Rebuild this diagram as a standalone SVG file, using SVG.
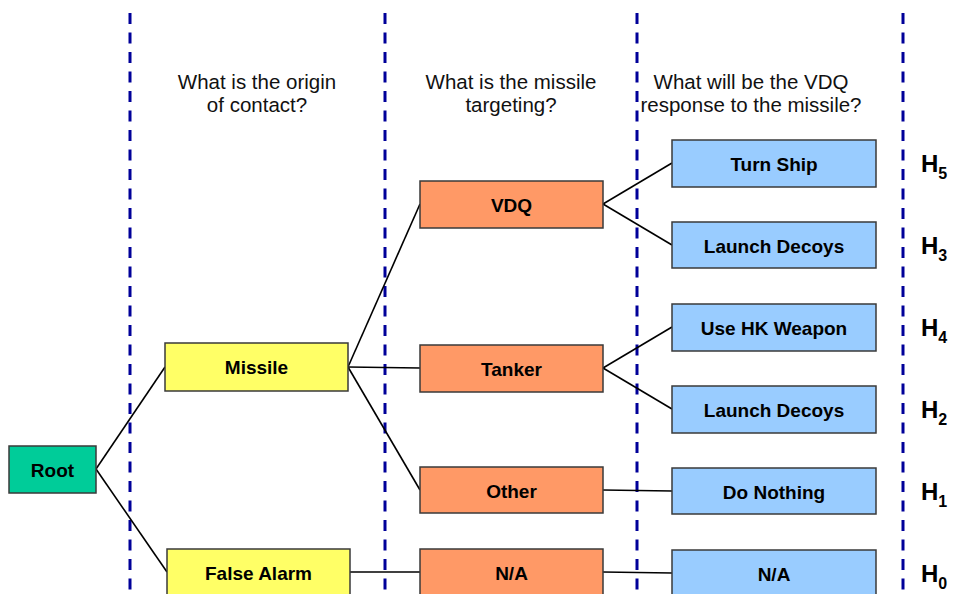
<svg xmlns="http://www.w3.org/2000/svg" width="953" height="594" viewBox="0 0 953 594">
<style>
.bg{fill:#ffffff}
.div{stroke:#000099;stroke-width:3;stroke-dasharray:11 8.5;fill:none}
.q{font-family:"Liberation Sans",Arial,sans-serif;font-size:20.5px;fill:#111;text-anchor:middle}
.box{stroke:#3a3a3a;stroke-width:1.5}
.root{fill:#00CC99}
.yel{fill:#FFFF66}
.org{fill:#FF9966}
.blu{fill:#99CCFF}
.lbl{font-family:"Liberation Sans",Arial,sans-serif;font-weight:bold;font-size:19px;fill:#000;text-anchor:middle}
.h{font-family:"Liberation Sans",Arial,sans-serif;font-weight:bold;font-size:24px;fill:#000}
.sub{font-size:16px}
.con line{stroke:#000;stroke-width:1.6}
</style>
<rect class="bg" x="0" y="0" width="953" height="594"/>
<g id="dividers">
<line class="div" x1="130" y1="13" x2="130" y2="594"/>
<line class="div" x1="385" y1="13" x2="385" y2="594"/>
<line class="div" x1="637" y1="13" x2="637" y2="594"/>
<line class="div" x1="903" y1="13" x2="903" y2="594"/>
</g>
<g id="questions">
<text class="q" x="257" y="89">What is the origin</text>
<text class="q" x="257" y="112">of contact?</text>
<text class="q" x="511" y="89">What is the missile</text>
<text class="q" x="511" y="112">targeting?</text>
<text class="q" x="751" y="89">What will be the VDQ</text>
<text class="q" x="751" y="112">response to the missile?</text>
</g>
<g id="connectors" class="con">
<line x1="96" y1="469" x2="165" y2="367"/>
<line x1="96" y1="469" x2="167" y2="572"/>
<line x1="348" y1="367" x2="420" y2="204"/>
<line x1="348" y1="367" x2="420" y2="368"/>
<line x1="348" y1="367" x2="420" y2="490"/>
<line x1="350" y1="572" x2="420" y2="572"/>
<line x1="603" y1="204" x2="672" y2="163"/>
<line x1="603" y1="204" x2="672" y2="245"/>
<line x1="603" y1="368" x2="672" y2="327"/>
<line x1="603" y1="368" x2="672" y2="409"/>
<line x1="603" y1="490" x2="672" y2="491"/>
<line x1="603" y1="572" x2="672" y2="573"/>
</g>
<g id="root"><rect class="box root" x="9" y="446" width="87" height="47"/><text class="lbl" x="52.5" y="477">Root</text></g>
<g id="missile"><rect class="box yel" x="165" y="343" width="183" height="48"/><text class="lbl" x="256.5" y="374">Missile</text></g>
<g id="falsealarm"><rect class="box yel" x="167" y="549" width="183" height="48"/><text class="lbl" x="258.5" y="580">False Alarm</text></g>
<g id="vdq"><rect class="box org" x="420" y="181" width="183" height="47"/><text class="lbl" x="511.5" y="212">VDQ</text></g>
<g id="tanker"><rect class="box org" x="420" y="345" width="183" height="47"/><text class="lbl" x="511.5" y="376">Tanker</text></g>
<g id="other"><rect class="box org" x="420" y="467" width="183" height="46"/><text class="lbl" x="511.5" y="497.5">Other</text></g>
<g id="na1"><rect class="box org" x="420" y="549" width="183" height="48"/><text class="lbl" x="511.5" y="580">N/A</text></g>
<g id="turnship"><rect class="box blu" x="672" y="140" width="204" height="47"/><text class="lbl" x="774" y="171">Turn Ship</text></g>
<g id="decoys1"><rect class="box blu" x="672" y="222" width="204" height="46"/><text class="lbl" x="774" y="252.5">Launch Decoys</text></g>
<g id="hk"><rect class="box blu" x="672" y="304" width="204" height="47"/><text class="lbl" x="774" y="335">Use HK Weapon</text></g>
<g id="decoys2"><rect class="box blu" x="672" y="386" width="204" height="47"/><text class="lbl" x="774" y="417">Launch Decoys</text></g>
<g id="donothing"><rect class="box blu" x="672" y="468" width="204" height="46"/><text class="lbl" x="774" y="498.5">Do Nothing</text></g>
<g id="na2"><rect class="box blu" x="672" y="550" width="204" height="48"/><text class="lbl" x="774" y="581">N/A</text></g>
<g id="hlabels">
<text class="h" x="921" y="172">H<tspan class="sub" dy="7">5</tspan></text>
<text class="h" x="921" y="254">H<tspan class="sub" dy="7">3</tspan></text>
<text class="h" x="921" y="336">H<tspan class="sub" dy="7">4</tspan></text>
<text class="h" x="921" y="418">H<tspan class="sub" dy="7">2</tspan></text>
<text class="h" x="921" y="500">H<tspan class="sub" dy="7">1</tspan></text>
<text class="h" x="921" y="582">H<tspan class="sub" dy="7">0</tspan></text>
</g>
</svg>
